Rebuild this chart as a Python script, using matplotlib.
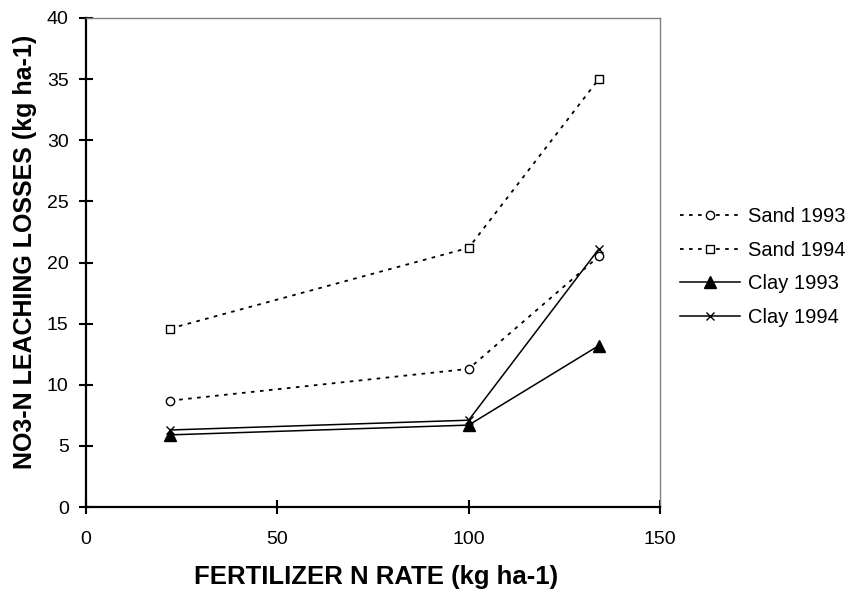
import matplotlib
matplotlib.use("Agg")
import matplotlib.pyplot as plt
from matplotlib.lines import Line2D

plt.rcParams['font.family'] = ['Liberation Sans', 'DejaVu Sans']

# --- data ---
n_rate = [22, 100, 134]
sand_1993 = [8.7, 11.3, 20.5]
sand_1994 = [14.6, 21.2, 35.0]
clay_1993 = [5.9, 6.7, 13.2]
clay_1994 = [6.3, 7.1, 21.1]

x_ticks = [0, 50, 100, 150]
y_ticks = [0, 5, 10, 15, 20, 25, 30, 35, 40]
labels = ['Sand 1993', 'Sand 1994', 'Clay 1993', 'Clay 1994']

DOTS = (0, (2, 3))

fig = plt.figure(figsize=(8.5, 5.94), dpi=100)
ax = fig.add_axes([86 / 850, 87 / 594, 574 / 850, 489 / 594])

# sand: dotted lines, open markers
ax.plot(n_rate, sand_1993, color='black', lw=1.3, linestyle=DOTS, marker='o', ms=6,
        mfc='white', mec='black', mew=1, label=labels[0])
ax.plot(n_rate, sand_1994, color='black', lw=1.3, linestyle=DOTS, marker='s', ms=6,
        mfc='white', mec='black', mew=1, label=labels[1])
# clay: solid lines
ax.plot(n_rate, clay_1993, color='black', lw=1.1, marker='^', ms=8.5, mfc='black',
        mec='black', label=labels[2])
ax.plot(n_rate, clay_1994, color='black', lw=1.1, marker='x', ms=6, mew=1,
        label=labels[3])

ax.set_xlim(x_ticks[0], x_ticks[-1])
ax.set_ylim(y_ticks[0], y_ticks[-1])
ax.set_xticks(x_ticks)
ax.set_yticks(y_ticks)
ax.tick_params(direction='inout', length=10, width=1.5, labelsize=14)
ax.tick_params(axis='x', pad=12)
ax.tick_params(axis='y', pad=7.5)
for side in ['left', 'bottom']:
    ax.spines[side].set_linewidth(1.6)
for side in ['top', 'right']:
    ax.spines[side].set_color('#808080')
    ax.spines[side].set_linewidth(1.0)

fig.text(376 / 850, 1 - 577 / 594, 'FERTILIZER N RATE (kg ha-1)', fontsize=18.5,
         fontweight='bold', ha='center', va='center')
fig.text(25 / 850, 1 - 252 / 594, 'NO3-N LEACHING LOSSES (kg ha-1)', fontsize=18,
         fontweight='bold', ha='center', va='center', rotation=90)

ax.legend(loc='center left', bbox_to_anchor=(0.8, 1 - 267 / 594),
          bbox_transform=fig.transFigure, frameon=False, fontsize=14.5,
          handlelength=3, handletextpad=0.4, labelspacing=0.72, borderpad=0,
          borderaxespad=0, numpoints=1)

fig.savefig('out.png', dpi=100)
